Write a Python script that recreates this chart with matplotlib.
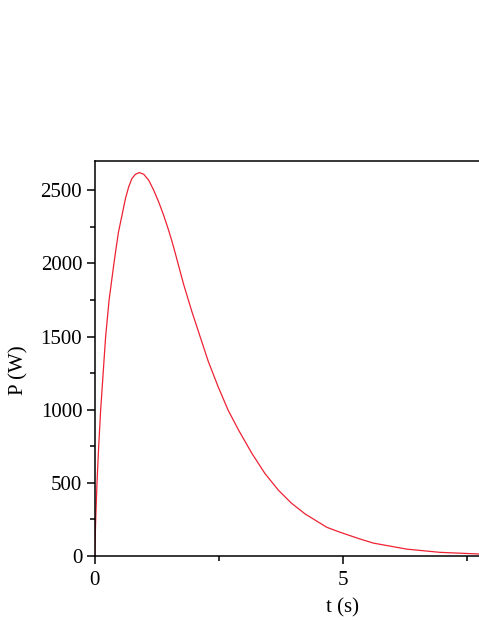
import matplotlib
matplotlib.use("Agg")
import matplotlib.pyplot as plt
from matplotlib.ticker import MultipleLocator

plt.rcParams['font.family'] = ['Liberation Serif', 'DejaVu Serif']

t_s = [0.0, 0.02, 0.046, 0.08, 0.12, 0.17, 0.22, 0.29, 0.383, 0.43, 0.48,
       0.55, 0.62, 0.685, 0.75, 0.82, 0.90, 0.99, 1.09, 1.19, 1.29, 1.39,
       1.49, 1.55, 1.62, 1.79, 1.96, 2.12, 2.29, 2.49, 2.69, 2.90, 3.17,
       3.43, 3.70, 3.97, 4.24, 4.68, 4.95, 5.35, 5.62, 6.29, 6.96, 7.73, 8.0]
p_w = [0, 246, 497, 747, 997, 1248, 1498, 1749, 1988, 2102, 2215,
       2329, 2443, 2523, 2580, 2609, 2621, 2609, 2568, 2500, 2420, 2329,
       2227, 2160, 2075, 1860, 1670, 1505, 1330, 1156, 997, 861, 701,
       565, 451, 360, 288, 196, 162, 116, 88, 47, 25, 14, 12]

x_major = [0, 5]
y_major = [0, 500, 1000, 1500, 2000, 2500]

fig = plt.figure(figsize=(4.79, 6.2), dpi=100)
ax = fig.add_axes([94.7 / 479, 64 / 620, 496 / 479, 395 / 620])
ax.plot(t_s, p_w, color='#ee2233', lw=0.9)
ax.set_xlim(0, 10)
ax.set_ylim(0, 2700)
ax.set_xticks(x_major)
ax.set_yticks(y_major)
ax.xaxis.set_minor_locator(MultipleLocator(2.5))
ax.yaxis.set_minor_locator(MultipleLocator(250))
ax.tick_params(which='major', direction='out', length=6, width=1.1, labelsize=15, pad=3)
ax.tick_params(which='minor', direction='out', length=3.5, width=1.1)
ax.tick_params(axis='x', which='major', pad=5)
ax.tick_params(top=False, right=False, which='both')
for s in ax.spines.values():
    s.set_linewidth(1.1)
ax.set_xlabel('t (s)', fontsize=15, labelpad=6)
ax.set_ylabel('P (W)', fontsize=15)
ax.yaxis.set_label_coords(-0.134, 0.47)
fig.savefig('out.png', dpi=100)
